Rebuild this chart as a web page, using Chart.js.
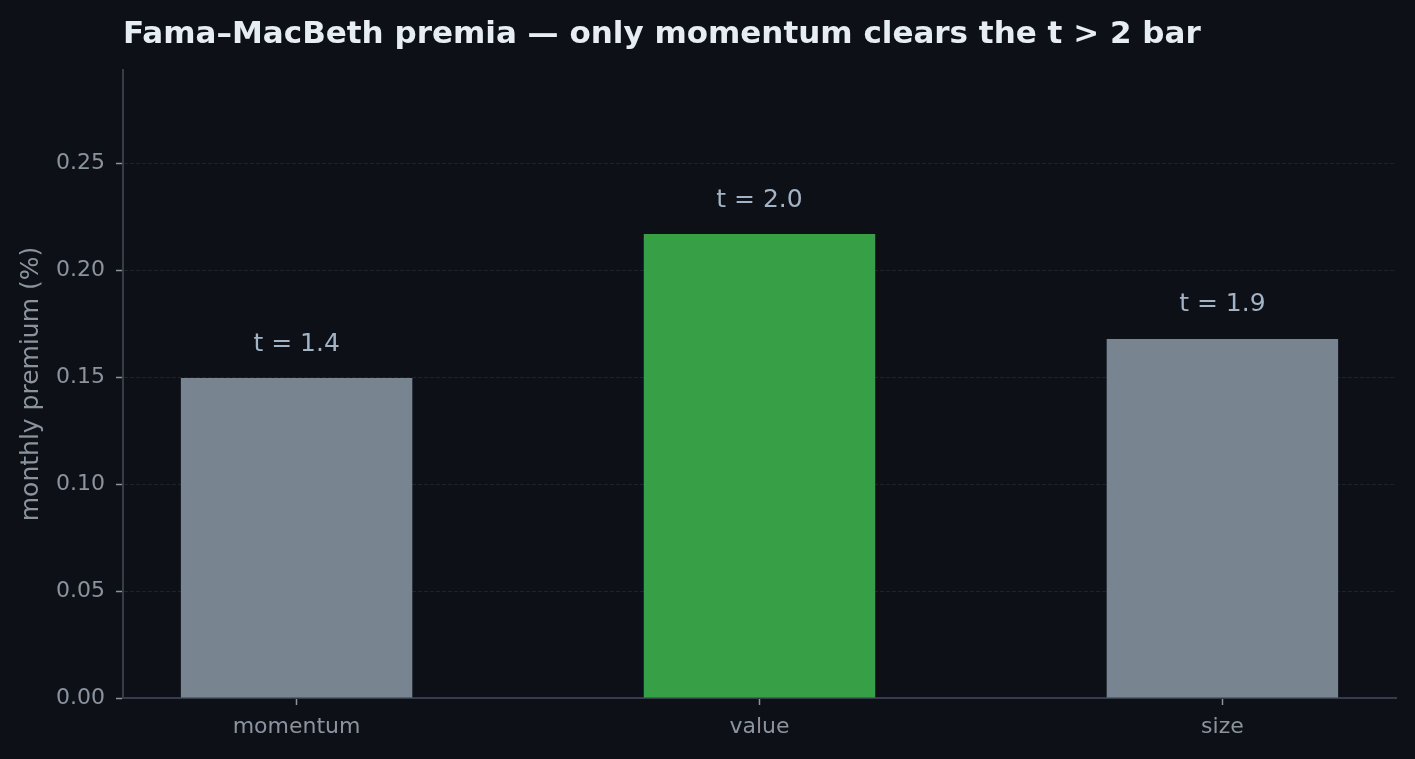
<!DOCTYPE html>
<html>
<head>
<meta charset="utf-8">
<script src="https://cdn.jsdelivr.net/npm/chart.js@4.4.1/dist/chart.umd.min.js"></script>
<style>
  html, body { margin: 0; padding: 0; background: #0d1117; }
  canvas { display: block; }
</style>
</head>
<body>
<canvas id="premia-chart" width="1415" height="759"></canvas>
<script>
// factor premia (monthly, %) and their Fama-MacBeth t-stats
var categories = ["momentum", "value", "size"];
var premia = [0.1495, 0.2168, 0.1678];
var tStats = [1.4, 2.0, 1.9];
var yTicks = [0, 0.05, 0.1, 0.15, 0.2, 0.25];

var chartTitle = "Fama\u2013MacBeth premia \u2014 only momentum clears the t > 2 bar";
var fontFamily = "'DejaVu Sans', sans-serif";

var points = [];
for (var i = 0; i < categories.length; i++) {
  points.push({ x: i, y: premia[i] });
}
// bars that reach t >= 2 get the green highlight
var colors = tStats.map(function (t) {
  return t >= 2 ? "#37a047" : "#788490";
});

var bgPlugin = {
  id: "bg",
  beforeDraw: function (chart) {
    var ctx = chart.ctx;
    ctx.save();
    ctx.fillStyle = "#0d1117";
    ctx.fillRect(0, 0, chart.width, chart.height);
    ctx.restore();
  },
};

var titlePlugin = {
  id: "leftTitle",
  afterDraw: function (chart) {
    var ctx = chart.ctx;
    ctx.save();
    ctx.font = "bold 31px " + fontFamily;
    ctx.fillStyle = "#e6edf3";
    ctx.textAlign = "left";
    ctx.textBaseline = "alphabetic";
    ctx.fillText(chartTitle, chart.chartArea.left, 43);
    ctx.restore();
  },
};

var tLabelPlugin = {
  id: "tLabels",
  afterDatasetsDraw: function (chart) {
    var ctx = chart.ctx;
    var meta = chart.getDatasetMeta(0);
    ctx.save();
    ctx.font = "25px " + fontFamily;
    ctx.fillStyle = "#a3b3c6";
    ctx.textAlign = "center";
    ctx.textBaseline = "middle";
    meta.data.forEach(function (bar, idx) {
      ctx.fillText("t = " + tStats[idx].toFixed(1), bar.x, bar.y - 34);
    });
    ctx.restore();
  },
};

new Chart(document.getElementById("premia-chart"), {
  type: "bar",
  data: {
    datasets: [
      {
        data: points,
        backgroundColor: colors,
        borderWidth: 0,
        barPercentage: 0.5,
        categoryPercentage: 1,
      },
    ],
  },
  options: {
    responsive: false,
    animation: false,
    layout: { padding: { top: 70, right: 19, left: 0, bottom: 0 } },
    plugins: {
      legend: { display: false },
      tooltip: { enabled: false },
      title: { display: false },
    },
    scales: {
      x: {
        type: "linear",
        min: -0.375,
        max: 2.375,
        offset: false,
        afterBuildTicks: function (scale) {
          scale.ticks = categories.map(function (c, idx) {
            return { value: idx };
          });
        },
        afterFit: function (scale) {
          scale.height = 61;
        },
        grid: {
          offset: false,
          drawOnChartArea: false,
          tickLength: 7,
          tickColor: "#8b949e",
          tickWidth: 1.5,
        },
        border: { color: "#363d4a", width: 2 },
        ticks: {
          color: "#8b949e",
          font: { family: fontFamily, size: 22 },
          padding: 9,
          maxRotation: 0,
          callback: function (value) {
            return categories[value];
          },
        },
      },
      y: {
        min: 0,
        max: 0.2935,
        afterBuildTicks: function (scale) {
          scale.ticks = yTicks.map(function (v) {
            return { value: v };
          });
        },
        afterFit: function (scale) {
          scale.width = 123;
        },
        grid: {
          color: "#1d232b",
          lineWidth: 1,
          tickLength: 7,
          tickColor: "#8b949e",
          tickWidth: 1.5,
          tickBorderDash: [],
        },
        border: { color: "#363d4a", width: 2, dash: [4, 2] },
        ticks: {
          color: "#8b949e",
          font: { family: fontFamily, size: 22 },
          padding: 11,
          callback: function (value) {
            return value.toFixed(2);
          },
        },
        title: {
          display: true,
          text: "monthly premium (%)",
          color: "#8b949e",
          font: { family: fontFamily, size: 25 },
          padding: { top: 16, bottom: 0 },
        },
      },
    },
  },
  plugins: [bgPlugin, titlePlugin, tLabelPlugin],
});
</script>
</body>
</html>
